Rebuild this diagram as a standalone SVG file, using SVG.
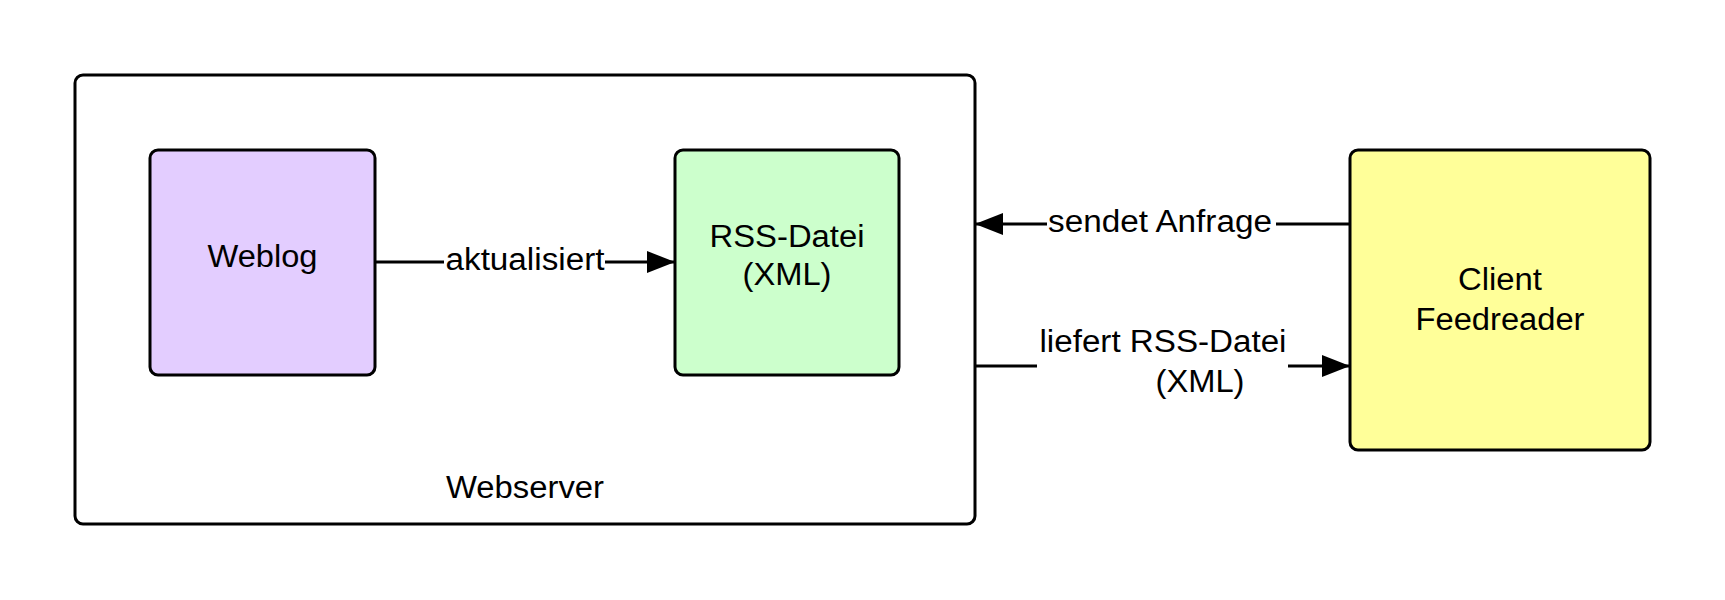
<svg xmlns="http://www.w3.org/2000/svg" width="1725" height="600" viewBox="0 0 1725 600">
<style>
.box{stroke:#000;stroke-width:3}
.lbl{font-family:"Liberation Sans",Arial,Helvetica,sans-serif;font-size:31px;fill:#000;text-anchor:middle}
.con{stroke:#000;stroke-width:3;fill:none}
</style>
<defs>
<marker id="arr" markerUnits="userSpaceOnUse" markerWidth="28" markerHeight="22" viewBox="0 0 28 22" refX="28" refY="11" orient="auto">
<path d="M0,0 L28,11 L0,22 z" fill="#000"/>
</marker>
</defs>
<rect width="1725" height="600" fill="#fff"/>
<g id="webserver">
<rect class="box" x="75" y="75" width="900" height="449" rx="8" fill="#fff"/>
<text class="lbl" x="525" y="498" textLength="158" lengthAdjust="spacingAndGlyphs">Webserver</text>
</g>
<g id="weblog">
<rect class="box" x="150" y="150" width="225" height="225" rx="8" fill="#e3cdff"/>
<text class="lbl" x="262.5" y="267" textLength="110" lengthAdjust="spacingAndGlyphs">Weblog</text>
</g>
<g id="rss">
<rect class="box" x="675" y="150" width="224" height="225" rx="8" fill="#ccffcc"/>
<text class="lbl" x="787" y="247" textLength="155" lengthAdjust="spacingAndGlyphs">RSS-Datei</text>
<text class="lbl" x="787" y="285" textLength="89" lengthAdjust="spacingAndGlyphs">(XML)</text>
</g>
<g id="client">
<rect class="box" x="1350" y="150" width="300" height="300" rx="8" fill="#ffff99"/>
<text class="lbl" x="1500" y="290" textLength="84" lengthAdjust="spacingAndGlyphs">Client</text>
<text class="lbl" x="1500" y="330" textLength="169" lengthAdjust="spacingAndGlyphs">Feedreader</text>
</g>
<g id="connectors">
<path class="con" d="M375,262 H444 M605,262 H675" marker-end="url(#arr)"/>
<text class="lbl" x="525" y="270" textLength="159" lengthAdjust="spacingAndGlyphs">aktualisiert</text>
<path class="con" d="M1350,224 H1276 M1047,224 H975" marker-end="url(#arr)"/>
<text class="lbl" x="1160" y="232" textLength="224" lengthAdjust="spacingAndGlyphs">sendet Anfrage</text>
<path class="con" d="M975,366 H1037 M1288,366 H1350" marker-end="url(#arr)"/>
<text class="lbl" x="1163" y="352" textLength="247" lengthAdjust="spacingAndGlyphs">liefert RSS-Datei</text>
<text class="lbl" x="1200" y="392" textLength="89" lengthAdjust="spacingAndGlyphs">(XML)</text>
</g>
</svg>
